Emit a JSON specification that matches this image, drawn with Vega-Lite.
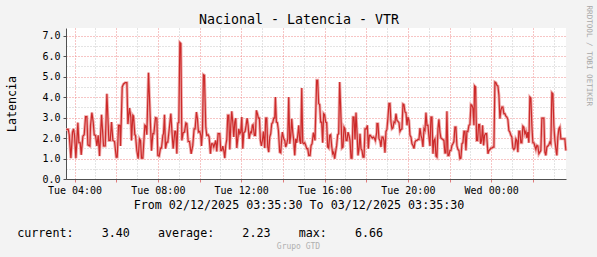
{
  "$schema": "https://vega.github.io/schema/vega-lite/v6.json",
  "width": 500,
  "height": 151,
  "autosize": "none",
  "padding": {"left": 66, "top": 28, "right": 31, "bottom": 78},
  "background": "#f3f3f3",
  "config": {"view": {"fill": "#ffffff", "stroke": null}, "font": "DejaVu Sans Mono"},
  "data": {"values": [
    {"h":3.602,"v":2.42},{"h":3.698,"v":2.42},{"h":3.746,"v":2.16},{"h":3.826,"v":1.02},{"h":3.906,"v":2.29},{"h":3.954,"v":2.45},{"h":4.002,"v":2.13},{"h":4.066,"v":1.02},{"h":4.162,"v":2.75},{"h":4.21,"v":1.77},{"h":4.274,"v":1.77},{"h":4.322,"v":1.18},{"h":4.402,"v":2.09},{"h":4.466,"v":2.16},{"h":4.53,"v":3.04},{"h":4.594,"v":3.04},{"h":4.642,"v":1.67},{"h":4.738,"v":1.61},{"h":4.77,"v":2.62},{"h":4.834,"v":3.24},{"h":4.898,"v":2.78},{"h":4.946,"v":2.16},{"h":5.01,"v":2.13},{"h":5.074,"v":1.61},{"h":5.138,"v":2.13},{"h":5.202,"v":1.12},{"h":5.298,"v":3.14},{"h":5.394,"v":1.61},{"h":5.474,"v":1.61},{"h":5.554,"v":4.16},{"h":5.65,"v":1.88},{"h":5.714,"v":1.88},{"h":5.778,"v":2.78},{"h":5.842,"v":1.88},{"h":5.922,"v":1.83},{"h":6.002,"v":1.07},{"h":6.05,"v":1.07},{"h":6.114,"v":2.62},{"h":6.178,"v":2.62},{"h":6.21,"v":1.61},{"h":6.29,"v":4.49},{"h":6.354,"v":4.64},{"h":6.434,"v":4.7},{"h":6.514,"v":4.7},{"h":6.562,"v":2.68},{"h":6.642,"v":3.46},
    {"h":6.704,"v":3.02},{"h":6.736,"v":1.88},{"h":6.8,"v":3.11},{"h":6.832,"v":3.07},{"h":6.896,"v":2.16},{"h":6.928,"v":2.13},{"h":6.992,"v":1.38},{"h":7.056,"v":0.99},{"h":7.12,"v":1.96},{"h":7.168,"v":1.88},{"h":7.216,"v":1.02},{"h":7.28,"v":1.02},{"h":7.376,"v":2.62},{"h":7.424,"v":2.58},{"h":7.472,"v":2.16},{"h":7.552,"v":5.19},{"h":7.696,"v":1.38},{"h":7.76,"v":2.21},{"h":7.808,"v":2.21},{"h":7.888,"v":2.99},{"h":7.952,"v":2.97},{"h":8.0,"v":1.15},{"h":8.064,"v":1.12},{"h":8.128,"v":1.51},{"h":8.176,"v":1.51},{"h":8.24,"v":2.13},{"h":8.272,"v":2.21},{"h":8.32,"v":3.14},{"h":8.368,"v":1.48},{"h":8.432,"v":1.8},{"h":8.48,"v":1.8},{"h":8.624,"v":3.19},{"h":8.688,"v":2.13},{"h":8.736,"v":1.48},{"h":8.816,"v":2.32},{"h":8.864,"v":2.32},{"h":8.912,"v":1.23},{"h":8.96,"v":2.73},{"h":9.008,"v":2.75},{"h":9.056,"v":6.66},{"h":9.104,"v":6.61},{"h":9.152,"v":1.88},{"h":9.216,"v":2.26},{"h":9.28,"v":2.29},{"h":9.344,"v":2.73},{"h":9.392,"v":2.7},{"h":9.456,"v":1.83},{"h":9.52,"v":1.83},{"h":9.6,"v":1.23},
    {"h":9.677,"v":1.64},{"h":9.741,"v":2.45},{"h":9.789,"v":2.45},{"h":9.853,"v":3.27},{"h":9.901,"v":2.94},{"h":9.949,"v":2.29},{"h":10.013,"v":2.32},{"h":10.061,"v":2.13},{"h":10.093,"v":1.61},{"h":10.141,"v":2.29},{"h":10.189,"v":5.09},{"h":10.237,"v":5.06},{"h":10.301,"v":2.53},{"h":10.349,"v":2.13},{"h":10.413,"v":2.16},{"h":10.461,"v":2.05},{"h":10.525,"v":1.23},{"h":10.573,"v":1.72},{"h":10.637,"v":1.72},{"h":10.685,"v":1.56},{"h":10.733,"v":1.72},{"h":10.781,"v":1.88},{"h":10.829,"v":1.34},{"h":10.893,"v":2.21},{"h":10.973,"v":2.21},{"h":11.021,"v":1.39},{"h":11.069,"v":1.39},{"h":11.117,"v":1.61},{"h":11.165,"v":1.39},{"h":11.213,"v":1.02},{"h":11.261,"v":1.64},{"h":11.309,"v":1.93},{"h":11.357,"v":3.11},{"h":11.405,"v":3.11},{"h":11.453,"v":1.44},{"h":11.501,"v":2.62},{"h":11.549,"v":3.3},{"h":11.597,"v":2.78},{"h":11.645,"v":2.05},{"h":11.693,"v":2.78},{"h":11.741,"v":2.97},{"h":11.789,"v":1.51},{"h":11.837,"v":1.96},{"h":11.885,"v":2.45},{"h":11.933,"v":2.21},{"h":11.981,"v":2.29},{"h":12.029,"v":3.02},{"h":12.077,"v":1.48},{"h":12.125,"v":2.26},{"h":12.189,"v":2.32},{"h":12.237,"v":2.62},{"h":12.285,"v":2.97},{"h":12.333,"v":2.62},{"h":12.381,"v":1.96},{"h":12.445,"v":2.29},{"h":12.493,"v":2.26},{"h":12.541,"v":2.62},
    {"h":12.571,"v":2.65},{"h":12.635,"v":2.13},{"h":12.683,"v":2.13},{"h":12.731,"v":3.35},{"h":12.779,"v":3.19},{"h":12.827,"v":2.97},{"h":12.875,"v":2.97},{"h":12.923,"v":1.88},{"h":12.971,"v":1.61},{"h":13.019,"v":1.88},{"h":13.067,"v":2.32},{"h":13.131,"v":1.51},{"h":13.179,"v":2.97},{"h":13.227,"v":2.97},{"h":13.275,"v":1.56},{"h":13.323,"v":1.31},{"h":13.371,"v":2.05},{"h":13.419,"v":2.21},{"h":13.467,"v":2.7},{"h":13.515,"v":2.75},{"h":13.563,"v":2.97},{"h":13.611,"v":2.97},{"h":13.643,"v":4.0},{"h":13.691,"v":2.78},{"h":13.739,"v":2.75},{"h":13.787,"v":2.37},{"h":13.851,"v":1.31},{"h":13.899,"v":1.28},{"h":13.947,"v":2.0},{"h":13.979,"v":2.29},{"h":14.043,"v":1.96},{"h":14.091,"v":1.88},{"h":14.139,"v":1.56},{"h":14.187,"v":1.72},{"h":14.235,"v":1.96},{"h":14.283,"v":4.0},{"h":14.331,"v":1.72},{"h":14.379,"v":2.13},{"h":14.427,"v":2.94},{"h":14.475,"v":2.29},{"h":14.523,"v":1.88},{"h":14.571,"v":1.15},{"h":14.619,"v":1.96},{"h":14.667,"v":1.77},{"h":14.715,"v":2.13},{"h":14.763,"v":2.62},{"h":14.811,"v":1.88},{"h":14.859,"v":1.72},{"h":14.907,"v":4.44},{"h":14.955,"v":1.77},{"h":15.003,"v":1.72},{"h":15.051,"v":1.77},{"h":15.099,"v":1.64},{"h":15.147,"v":1.48},{"h":15.195,"v":1.48},{"h":15.243,"v":1.15},{"h":15.307,"v":1.15},{"h":15.355,"v":1.64},{"h":15.403,"v":1.72},{"h":15.467,"v":2.26},
    {"h":15.544,"v":1.88},{"h":15.624,"v":4.82},{"h":15.672,"v":4.82},{"h":15.72,"v":3.68},{"h":15.768,"v":3.63},{"h":15.816,"v":2.78},{"h":15.864,"v":2.78},{"h":15.912,"v":1.77},{"h":15.96,"v":3.19},{"h":16.008,"v":3.14},{"h":16.056,"v":2.78},{"h":16.104,"v":2.75},{"h":16.152,"v":1.56},{"h":16.2,"v":1.51},{"h":16.248,"v":2.13},{"h":16.296,"v":2.16},{"h":16.344,"v":1.61},{"h":16.392,"v":1.23},{"h":16.44,"v":1.31},{"h":16.488,"v":0.99},{"h":16.536,"v":1.34},{"h":16.584,"v":1.64},{"h":16.632,"v":2.16},{"h":16.68,"v":2.21},{"h":16.728,"v":4.73},{"h":16.776,"v":3.43},{"h":16.84,"v":1.51},{"h":16.888,"v":1.56},{"h":16.936,"v":2.53},{"h":16.984,"v":2.45},{"h":17.032,"v":1.88},{"h":17.08,"v":1.88},{"h":17.128,"v":2.29},{"h":17.176,"v":2.13},{"h":17.224,"v":1.88},{"h":17.272,"v":1.02},{"h":17.32,"v":1.02},{"h":17.368,"v":3.02},{"h":17.416,"v":3.02},{"h":17.464,"v":1.93},{"h":17.512,"v":3.24},{"h":17.56,"v":2.29},{"h":17.608,"v":1.15},{"h":17.656,"v":1.48},{"h":17.704,"v":2.21},{"h":17.752,"v":1.48},{"h":17.8,"v":1.39},{"h":17.848,"v":1.07},{"h":17.896,"v":1.07},{"h":17.944,"v":2.45},{"h":18.008,"v":2.45},{"h":18.056,"v":2.62},{"h":18.104,"v":1.48},{"h":18.152,"v":2.13},{"h":18.2,"v":2.13},{"h":18.248,"v":2.05},{"h":18.296,"v":2.0},{"h":18.344,"v":2.05},{"h":18.392,"v":2.0},{"h":18.44,"v":1.88},{"h":18.504,"v":2.26},
    {"h":18.518,"v":2.7},{"h":18.566,"v":2.7},{"h":18.614,"v":1.96},{"h":18.662,"v":1.88},{"h":18.71,"v":1.56},{"h":18.758,"v":2.05},{"h":18.806,"v":2.05},{"h":18.854,"v":1.88},{"h":18.902,"v":1.28},{"h":18.95,"v":2.32},{"h":18.998,"v":2.42},{"h":19.046,"v":3.02},{"h":19.094,"v":3.68},{"h":19.142,"v":3.68},{"h":19.19,"v":2.78},{"h":19.238,"v":2.45},{"h":19.286,"v":2.49},{"h":19.334,"v":2.78},{"h":19.382,"v":2.75},{"h":19.43,"v":3.19},{"h":19.478,"v":2.86},{"h":19.526,"v":2.81},{"h":19.574,"v":2.75},{"h":19.622,"v":2.32},{"h":19.67,"v":2.42},{"h":19.718,"v":2.45},{"h":19.766,"v":3.66},{"h":19.814,"v":3.63},{"h":19.862,"v":3.27},{"h":19.91,"v":3.24},{"h":19.958,"v":2.62},{"h":20.006,"v":3.02},{"h":20.054,"v":2.86},{"h":20.102,"v":2.13},{"h":20.15,"v":2.05},{"h":20.198,"v":1.72},{"h":20.246,"v":1.64},{"h":20.294,"v":1.48},{"h":20.342,"v":1.8},{"h":20.39,"v":1.88},{"h":20.438,"v":1.88},{"h":20.486,"v":1.93},{"h":20.534,"v":1.93},{"h":20.582,"v":2.49},{"h":20.63,"v":2.13},{"h":20.678,"v":1.96},{"h":20.726,"v":1.56},{"h":20.774,"v":2.45},{"h":20.822,"v":2.37},{"h":20.87,"v":3.24},{"h":20.918,"v":2.62},{"h":20.966,"v":2.62},{"h":21.014,"v":2.05},{"h":21.062,"v":1.61},{"h":21.11,"v":3.02},{"h":21.158,"v":3.02},{"h":21.206,"v":1.23},{"h":21.254,"v":1.88},{"h":21.302,"v":1.96},{"h":21.35,"v":1.12},{"h":21.398,"v":1.07},{"h":21.446,"v":2.45},
    {"h":21.492,"v":2.91},{"h":21.54,"v":2.29},{"h":21.588,"v":2.0},{"h":21.636,"v":1.96},{"h":21.684,"v":1.93},{"h":21.732,"v":1.88},{"h":21.78,"v":1.28},{"h":21.828,"v":1.28},{"h":21.876,"v":3.3},{"h":21.924,"v":1.15},{"h":21.972,"v":1.15},{"h":22.02,"v":1.39},{"h":22.068,"v":1.39},{"h":22.116,"v":1.64},{"h":22.164,"v":1.72},{"h":22.212,"v":1.83},{"h":22.26,"v":2.53},{"h":22.308,"v":2.53},{"h":22.356,"v":1.61},{"h":22.404,"v":1.44},{"h":22.452,"v":1.39},{"h":22.5,"v":0.99},{"h":22.548,"v":1.02},{"h":22.596,"v":1.72},{"h":22.644,"v":1.77},{"h":22.692,"v":2.32},{"h":22.74,"v":2.32},{"h":22.788,"v":1.39},{"h":22.836,"v":2.32},{"h":22.884,"v":2.32},{"h":22.932,"v":2.62},{"h":22.98,"v":2.65},{"h":23.028,"v":3.63},{"h":23.076,"v":3.59},{"h":23.124,"v":3.46},{"h":23.172,"v":2.62},{"h":23.204,"v":4.54},{"h":23.252,"v":4.49},{"h":23.3,"v":1.88},{"h":23.348,"v":1.88},{"h":23.396,"v":2.65},{"h":23.444,"v":2.65},{"h":23.492,"v":1.72},{"h":23.54,"v":1.88},{"h":23.588,"v":2.62},{"h":23.636,"v":1.64},{"h":23.684,"v":2.13},{"h":23.732,"v":2.21},{"h":23.78,"v":2.21},{"h":23.844,"v":1.23},{"h":23.892,"v":1.39},{"h":23.94,"v":1.44},{"h":23.988,"v":1.51},{"h":24.036,"v":1.51},{"h":24.084,"v":1.56},{"h":24.132,"v":1.56},{"h":24.18,"v":4.73},{"h":24.228,"v":4.7},{"h":24.276,"v":4.57},{"h":24.324,"v":4.54},{"h":24.372,"v":4.08},{"h":24.42,"v":2.94},
    {"h":24.465,"v":3.35},{"h":24.513,"v":3.51},{"h":24.561,"v":3.51},{"h":24.609,"v":3.19},{"h":24.657,"v":3.19},{"h":24.705,"v":3.07},{"h":24.753,"v":3.02},{"h":24.801,"v":2.91},{"h":24.849,"v":2.37},{"h":24.897,"v":2.29},{"h":24.945,"v":2.13},{"h":24.993,"v":2.05},{"h":25.041,"v":1.51},{"h":25.089,"v":1.44},{"h":25.137,"v":1.51},{"h":25.185,"v":1.96},{"h":25.233,"v":1.88},{"h":25.281,"v":1.31},{"h":25.329,"v":2.32},{"h":25.377,"v":2.32},{"h":25.425,"v":1.77},{"h":25.473,"v":1.77},{"h":25.521,"v":2.58},{"h":25.569,"v":2.53},{"h":25.617,"v":2.21},{"h":25.665,"v":2.32},{"h":25.713,"v":2.0},{"h":25.761,"v":2.29},{"h":25.809,"v":1.77},{"h":25.857,"v":4.0},{"h":25.905,"v":3.95},{"h":25.953,"v":2.62},{"h":26.001,"v":1.77},{"h":26.049,"v":1.77},{"h":26.097,"v":1.61},{"h":26.145,"v":1.44},{"h":26.193,"v":1.64},{"h":26.241,"v":1.61},{"h":26.289,"v":1.23},{"h":26.337,"v":1.31},{"h":26.385,"v":1.39},{"h":26.433,"v":2.97},{"h":26.481,"v":2.97},{"h":26.529,"v":2.97},{"h":26.577,"v":1.31},{"h":26.625,"v":1.15},{"h":26.673,"v":1.56},{"h":26.721,"v":1.61},{"h":26.769,"v":1.67},{"h":26.817,"v":1.8},{"h":26.865,"v":1.72},{"h":26.913,"v":4.21},{"h":26.961,"v":4.16},{"h":27.009,"v":2.62},{"h":27.057,"v":1.88},{"h":27.105,"v":1.48},{"h":27.153,"v":1.15},{"h":27.201,"v":2.05},{"h":27.249,"v":2.45},{"h":27.297,"v":2.53},{"h":27.345,"v":1.96},{"h":27.393,"v":1.96},{"h":27.441,"v":1.96},{"h":27.489,"v":1.96},{"h":27.537,"v":1.96},{"h":27.585,"v":1.39}
  ]},
  "layer": [
    {
      "mark": {"type": "line", "color": "#eeaaaa", "strokeWidth": 3, "interpolate": "linear"},
      "encoding": {
        "x": {"field": "h", "type": "quantitative", "scale": {"domain": [3.5917, 27.5917], "nice": false, "zero": false}, "axis": null},
        "y": {"field": "v", "type": "quantitative", "scale": {"domain": [0, 7.37], "nice": false, "zero": true}, "axis": null}
      }
    },
    {
      "mark": {"type": "line", "color": "#cc2a2a", "strokeWidth": 1.2, "interpolate": "linear"},
      "encoding": {
        "x": {
          "field": "h", "type": "quantitative",
          "scale": {"domain": [3.5917, 27.5917], "nice": false, "zero": false},
          "axis": {
            "orient": "bottom",
            "values": [4,5,6,7,8,9,10,11,12,13,14,15,16,17,18,19,20,21,22,23,24,25,26,27],
            "labelExpr": "datum.value % 4 == 0 ? ((datum.value >= 24 ? 'Wed ' : 'Tue ') + ((datum.value % 24) < 10 ? '0' : '') + (datum.value % 24) + ':00') : ''",
            "labelFont": "DejaVu Sans Mono", "labelFontSize": 10, "labelColor": "#000000",
            "labelPadding": 3, "labelFlush": false, "labelOverlap": false,
            "tickSize": 3,
            "tickColor": {"condition": {"test": "datum.value % 2 == 0", "value": "#e07a7a"}, "value": "transparent"},
            "grid": true,
            "gridColor": {"condition": {"test": "datum.value % 2 == 0", "value": "#ee8a8a"}, "value": "#c8c8c8"},
            "gridDash": [1, 2],
            "gridWidth": 1,
            "domainColor": "#505050",
            "title": "From 02/12/2025 03:35:30 To 03/12/2025 03:35:30",
            "titleFont": "DejaVu Sans Mono", "titleFontSize": 11.7, "titleFontWeight": "normal", "titleColor": "#000000",
            "titleX": 232.5, "titleY": 29.3, "titleAlign": "center", "titleBaseline": "alphabetic"
          }
        },
        "y": {
          "field": "v", "type": "quantitative",
          "scale": {"domain": [0, 7.37], "nice": false, "zero": true},
          "axis": {
            "orient": "left",
            "values": [0,0.5,1,1.5,2,2.5,3,3.5,4,4.5,5,5.5,6,6.5,7],
            "labelExpr": "datum.value % 1 == 0 ? format(datum.value, '.1f') : ''",
            "labelFont": "DejaVu Sans Mono", "labelFontSize": 10, "labelColor": "#000000",
            "labelPadding": 3, "labelOverlap": false, "labelFlush": false,
            "tickSize": 3,
            "tickColor": {"condition": {"test": "datum.value % 1 == 0", "value": "#505050"}, "value": "transparent"},
            "grid": true,
            "gridColor": {"condition": {"test": "datum.value % 1 == 0", "value": "#ee8a8a"}, "value": "#c8c8c8"},
            "gridDash": [1, 2],
            "gridWidth": 1,
            "domainColor": "#505050",
            "title": "Latencia",
            "titleFont": "DejaVu Sans Mono", "titleFontSize": 11.7, "titleFontWeight": "normal", "titleColor": "#000000",
            "titleAngle": -90, "titleX": -55, "titleY": 75.5, "titleAlign": "center", "titleBaseline": "middle"
          }
        }
      }
    },
    {
      "mark": {"type": "line", "opacity": 0},
      "encoding": {
        "x": {
          "field": "h", "type": "quantitative",
          "axis": {
            "orient": "top", "domain": false, "ticks": false, "labels": false, "grid": false,
            "title": "Nacional - Latencia - VTR",
            "titleFont": "DejaVu Sans Mono", "titleFontSize": 13.3, "titleFontWeight": "normal", "titleColor": "#000000",
            "titleX": 232.5, "titleY": -4.3, "titleAlign": "center", "titleBaseline": "alphabetic"
          }
        },
        "y": {
          "field": "v", "type": "quantitative",
          "axis": {
            "orient": "right", "domain": false, "ticks": false, "labels": false, "grid": false,
            "title": "RRDTOOL / TOBI OETIKER",
            "titleFont": "DejaVu Sans Mono", "titleFontSize": 7.6, "titleFontWeight": "normal", "titleColor": "#a8a8a8",
            "titleAngle": 90, "titleX": 22, "titleY": -23, "titleAlign": "left", "titleBaseline": "middle"
          }
        }
      }
    },
    {
      "mark": {"type": "line", "opacity": 0},
      "encoding": {
        "x": {
          "field": "h", "type": "quantitative",
          "axis": {
            "orient": "bottom", "domain": false, "ticks": false, "labels": false, "grid": false,
            "title": "current:\u00a0\u00a0\u00a0\u00a03.40\u00a0\u00a0\u00a0\u00a0average:\u00a0\u00a0\u00a0\u00a02.23\u00a0\u00a0\u00a0\u00a0max:\u00a0\u00a0\u00a0\u00a06.66",
            "titleFont": "DejaVu Sans Mono", "titleFontSize": 11.7, "titleFontWeight": "normal", "titleColor": "#000000",
            "titleX": -49.3, "titleY": 57, "titleAlign": "left", "titleBaseline": "alphabetic"
          }
        },
        "y": {
          "field": "v", "type": "quantitative",
          "axis": {
            "orient": "left", "domain": false, "ticks": false, "labels": false, "grid": false,
            "title": "Grupo GTD",
            "titleFont": "DejaVu Sans Mono", "titleFontSize": 8, "titleFontWeight": "normal", "titleColor": "#b0b0b0",
            "titleAngle": 0, "titleX": 232, "titleY": 220, "titleAlign": "center", "titleBaseline": "alphabetic"
          }
        }
      }
    }
  ],
  "resolve": {"axis": {"x": "independent", "y": "independent"}}
}
